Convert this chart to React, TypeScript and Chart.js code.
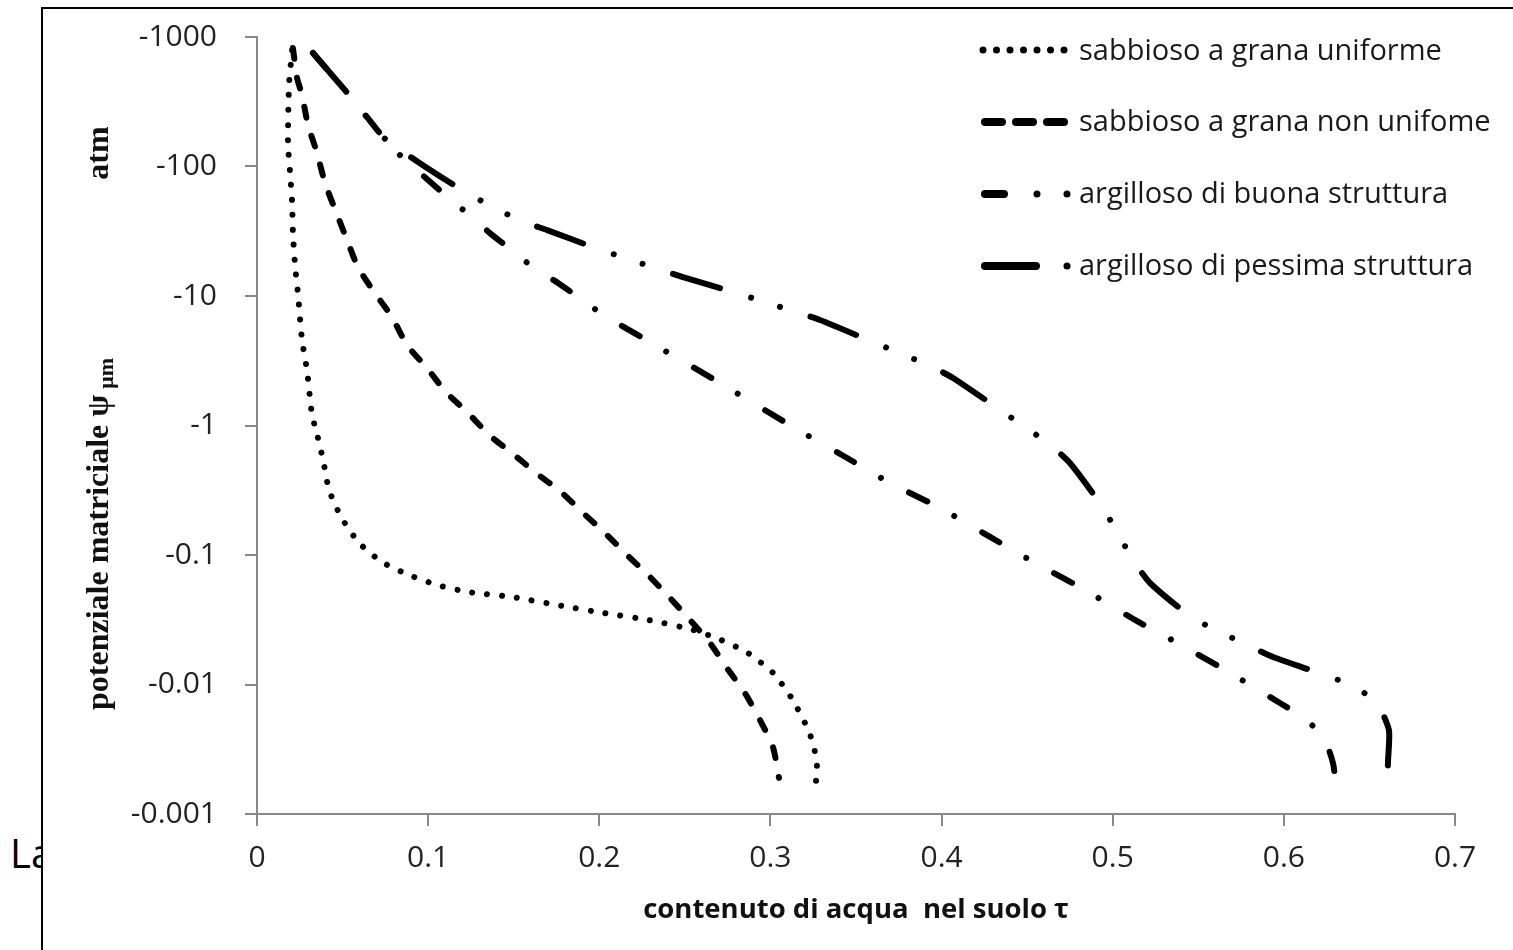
import React, { useEffect, useRef } from "react";
import { Chart, registerables } from "chart.js";

Chart.register(...registerables);

// ---------- data ----------
const xTicks = [0, 0.1, 0.2, 0.3, 0.4, 0.5, 0.6, 0.7];
const yTicks = [0.001, 0.01, 0.1, 1, 10, 100, 1000];
const yTickLabels = ["-0.001", "-0.01", "-0.1", "-1", "-10", "-100", "-1000"];

const seriesNames = [
  "sabbioso a grana uniforme",
  "sabbioso a grana non unifome",
  "argilloso di buona struttura",
  "argilloso di pessima struttura",
];

const xTitle = "contenuto di acqua  nel suolo \u03C4";
const yTitleMain = "potenziale matriciale \u03C8";
const yTitleSub = "\u03BCm";
const yTitleUnit = "atm";

// sabbioso a grana uniforme (theta, |psi| atm)
const uniformTheta = [0.0205, 0.0187, 0.0181, 0.0193, 0.0205, 0.021, 0.0222, 0.024, 0.0263, 0.0292, 0.0321, 0.0345, 0.0386, 0.0421, 0.0491, 0.0596, 0.073, 0.0888, 0.1052, 0.1233, 0.149, 0.1753, 0.2028, 0.2285, 0.2548, 0.2711, 0.2869, 0.3015, 0.312, 0.3202, 0.3243, 0.326, 0.3272, 0.3266];
const uniformPsi = [793, 426, 152, 90.7, 53.2, 30.6, 17.4, 10.2, 4.57, 2.68, 1.21, 0.923, 0.542, 0.318, 0.197, 0.124, 0.0883, 0.0701, 0.0587, 0.0518, 0.0474, 0.0411, 0.0356, 0.0315, 0.0264, 0.0221, 0.0175, 0.0123, 0.008, 0.00504, 0.00373, 0.00301, 0.00231, 0.00177];

// sabbioso a grana non unifome
const nonUniformTheta = [0.021, 0.0234, 0.0263, 0.0298, 0.0351, 0.0397, 0.0462, 0.0526, 0.059, 0.0689, 0.0789, 0.0876, 0.0993, 0.1104, 0.1233, 0.1356, 0.149, 0.163, 0.1776, 0.1899, 0.2033, 0.2162, 0.2285, 0.2413, 0.253, 0.2647, 0.2746, 0.2851, 0.2939, 0.3015, 0.305];
const nonUniformPsi = [822, 482, 357, 209, 127, 74.6, 44.5, 27.1, 16.7, 10.5, 6.88, 4.18, 2.78, 1.81, 1.25, 0.845, 0.613, 0.43, 0.307, 0.215, 0.148, 0.1, 0.0701, 0.0466, 0.0315, 0.0209, 0.0134, 0.0086, 0.00532, 0.00329, 0.0019];

// argilloso di buona struttura
const goodClayTheta = [0.0327, 0.0573, 0.0736, 0.0859, 0.0993, 0.1099, 0.1233, 0.1361, 0.1478, 0.1613, 0.1759, 0.1876, 0.2016, 0.2355, 0.2705, 0.3132, 0.3418, 0.3699, 0.3991, 0.4283, 0.4558, 0.4838, 0.513, 0.5411, 0.5685, 0.5977, 0.6106, 0.6229, 0.6287, 0.6305];
const goodClayPsi = [752, 315, 169, 114, 80.1, 60.3, 43.0, 30.6, 23.1, 16.7, 12.6, 9.82, 7.26, 3.97, 2.13, 0.974, 0.592, 0.36, 0.231, 0.138, 0.0852, 0.0537, 0.0315, 0.0198, 0.0123, 0.0072, 0.00561, 0.004, 0.00248, 0.00162];

// argilloso di pessima struttura
const poorClayTheta = [0.0327, 0.0573, 0.0736, 0.0952, 0.1227, 0.1531, 0.1695, 0.1993, 0.2331, 0.2489, 0.2805, 0.3132, 0.329, 0.3599, 0.3921, 0.4067, 0.4341, 0.4628, 0.475, 0.4943, 0.5119, 0.5218, 0.5469, 0.5785, 0.5937, 0.6241, 0.6404, 0.6544, 0.6614, 0.6609, 0.6603];
const poorClayPsi = [752, 315, 169, 106, 62.4, 38.6, 32.3, 23.1, 16.4, 14.0, 10.5, 7.66, 6.53, 4.41, 2.93, 2.33, 1.32, 0.72, 0.513, 0.231, 0.0915, 0.0608, 0.0326, 0.0202, 0.0163, 0.0118, 0.00974, 0.0072, 0.00445, 0.00261, 0.00167];

// ---------- styles ----------
const TICK_FONT = '"Open Sans", sans-serif';
const DOT_DASH = [0.001, 15];
const DASH_DASH = [11, 19];
const DASHDOT_DASH = [20, 31, 0.001, 32];
const LONGDASHDOTDOT_DASH = [49, 33, 0.001, 30, 0.001, 32];

function pts(xs: number[], ys: number[]) {
  return xs.map((x, i) => ({ x, y: ys[i] }));
}

const overlayPlugin = {
  id: "overlayPlugin",
  afterDraw(chart: any) {
    const ctx = chart.ctx as CanvasRenderingContext2D;
    const a = chart.chartArea;
    ctx.save();
    ctx.fillStyle = "#111";

    // x title
    ctx.font = 'bold 27.5px "Open Sans", sans-serif';
    ctx.textAlign = "center";
    ctx.textBaseline = "alphabetic";
    ctx.fillText(xTitle, (a.left + a.right) / 2, a.bottom + 104);

    // y title (rotated)
    ctx.save();
    ctx.translate(65, 701);
    ctx.rotate(-Math.PI / 2);
    ctx.textAlign = "left";
    ctx.font = 'bold 32px "Liberation Serif", serif';
    ctx.fillText(yTitleMain, 0, 0);
    const w = ctx.measureText(yTitleMain).width;
    ctx.font = 'bold 22px "Liberation Serif", serif';
    ctx.fillText(yTitleSub, w + 6, 5);
    ctx.restore();

    ctx.save();
    ctx.translate(65, 144);
    ctx.rotate(-Math.PI / 2);
    ctx.textAlign = "center";
    ctx.font = 'bold 32px "Liberation Serif", serif';
    ctx.fillText(yTitleUnit, 0, 0);
    ctx.restore();

    // legend
    const baselines = [51, 122, 194, 266];
    const textX = 1036;
    ctx.strokeStyle = "#000";
    ctx.fillStyle = "#000";
    ctx.lineCap = "round";
    // row 1 dotted
    let ly = baselines[0] - 10;
    ctx.lineWidth = 7;
    ctx.setLineDash([0.001, 13.5]);
    ctx.beginPath();
    ctx.moveTo(940, ly);
    ctx.lineTo(1022, ly);
    ctx.stroke();
    // row 2 dashed
    ly = baselines[1] - 9;
    ctx.lineWidth = 8;
    ctx.setLineDash([17, 14]);
    ctx.beginPath();
    ctx.moveTo(942, ly);
    ctx.lineTo(1022, ly);
    ctx.stroke();
    ctx.setLineDash([]);
    // row 3 dash-dot
    ly = baselines[2] - 9;
    ctx.beginPath();
    ctx.moveTo(942, ly);
    ctx.lineTo(961, ly);
    ctx.stroke();
    ctx.beginPath();
    ctx.arc(994, ly, 3.5, 0, Math.PI * 2);
    ctx.arc(1024, ly, 3.5, 0, Math.PI * 2);
    ctx.fill();
    // row 4 long dash dot dot
    ly = baselines[3] - 9;
    ctx.beginPath();
    ctx.moveTo(942, ly);
    ctx.lineTo(993, ly);
    ctx.stroke();
    ctx.beginPath();
    ctx.arc(1024, ly, 3.5, 0, Math.PI * 2);
    ctx.fill();

    ctx.fillStyle = "#1a1a1a";
    ctx.font = '29px "Open Sans", sans-serif';
    ctx.textAlign = "left";
    ctx.textBaseline = "alphabetic";
    seriesNames.forEach((n, i) => ctx.fillText(n, textX, baselines[i]));
    ctx.restore();
  },
};

export default function App() {
  const ref = useRef<HTMLCanvasElement | null>(null);

  useEffect(() => {
    if (!ref.current) return;
    const common = {
      borderColor: "#000",
      borderWidth: 6,
      borderCapStyle: "round" as const,
      borderJoinStyle: "round" as const,
      pointRadius: 0,
      tension: 0.2,
      fill: false,
    };
    const chart = new Chart(ref.current, {
      type: "line",
      data: {
        datasets: [
          { ...common, label: seriesNames[0], data: pts(uniformTheta, uniformPsi), borderDash: DOT_DASH },
          { ...common, label: seriesNames[1], data: pts(nonUniformTheta, nonUniformPsi), borderDash: DASH_DASH },
          { ...common, label: seriesNames[2], data: pts(goodClayTheta, goodClayPsi), borderDash: DASHDOT_DASH },
          { ...common, label: seriesNames[3], data: pts(poorClayTheta, poorClayPsi), borderDash: LONGDASHDOTDOT_DASH },
        ],
      },
      options: {
        responsive: false,
        animation: false,
        devicePixelRatio: 1,
        layout: { padding: { left: 0, top: 28, right: 58, bottom: 0 } },
        plugins: {
          legend: { display: false },
          tooltip: { enabled: false },
        },
        scales: {
          x: {
            type: "linear",
            min: 0,
            max: 0.7,
            afterBuildTicks: (scale: any) => {
              scale.ticks = xTicks.map((v) => ({ value: v }));
            },
            afterFit: (scale: any) => {
              scale.height = 136;
              scale.paddingLeft = 0;
              scale.paddingRight = 0;
            },
            ticks: {
              callback: (v: any) => (Number(v) === 0 ? "0" : Number(v).toFixed(1)),
              font: { family: TICK_FONT, size: 30 },
              color: "#222",
              padding: 14,
              maxRotation: 0,
              autoSkip: false,
            },
            grid: {
              display: true,
              drawOnChartArea: false,
              drawTicks: true,
              tickLength: 12,
              color: "#898989",
              lineWidth: 2,
            },
            border: { display: true, color: "#898989", width: 2 },
          },
          y: {
            type: "logarithmic",
            min: 0.001,
            max: 1000,
            afterBuildTicks: (scale: any) => {
              scale.ticks = yTicks.map((v) => ({ value: v }));
            },
            afterFit: (scale: any) => {
              scale.width = 214;
              scale.paddingTop = 0;
              scale.paddingBottom = 0;
            },
            ticks: {
              callback: (_v: any, i: number) => yTickLabels[i],
              font: { family: TICK_FONT, size: 30 },
              color: "#222",
              padding: 28,
              autoSkip: false,
            },
            grid: {
              display: true,
              drawOnChartArea: false,
              drawTicks: true,
              tickLength: 12,
              color: "#898989",
              lineWidth: 2,
            },
            border: { display: true, color: "#898989", width: 2 },
          },
        },
      },
      plugins: [overlayPlugin],
    } as any);
    return () => chart.destroy();
  }, []);

  return (
    <div
      style={{
        position: "fixed",
        left: 0,
        top: 0,
        width: 1513,
        height: 950,
        overflow: "hidden",
        background: "#fff",
      }}
    >
      <div
        style={{
          position: "absolute",
          left: 10,
          top: 825,
          font: '40px "Open Sans", sans-serif',
          color: "#000",
          whiteSpace: "nowrap",
        }}
      >
        La
      </div>
      <div
        style={{
          position: "absolute",
          left: 41,
          top: 7,
          width: 1600,
          height: 1000,
          border: "2px solid #000",
          background: "#fff",
        }}
      >
        <canvas ref={ref} width={1470} height={941} style={{ display: "block", width: 1470, height: 941 }} />
      </div>
    </div>
  );
}
